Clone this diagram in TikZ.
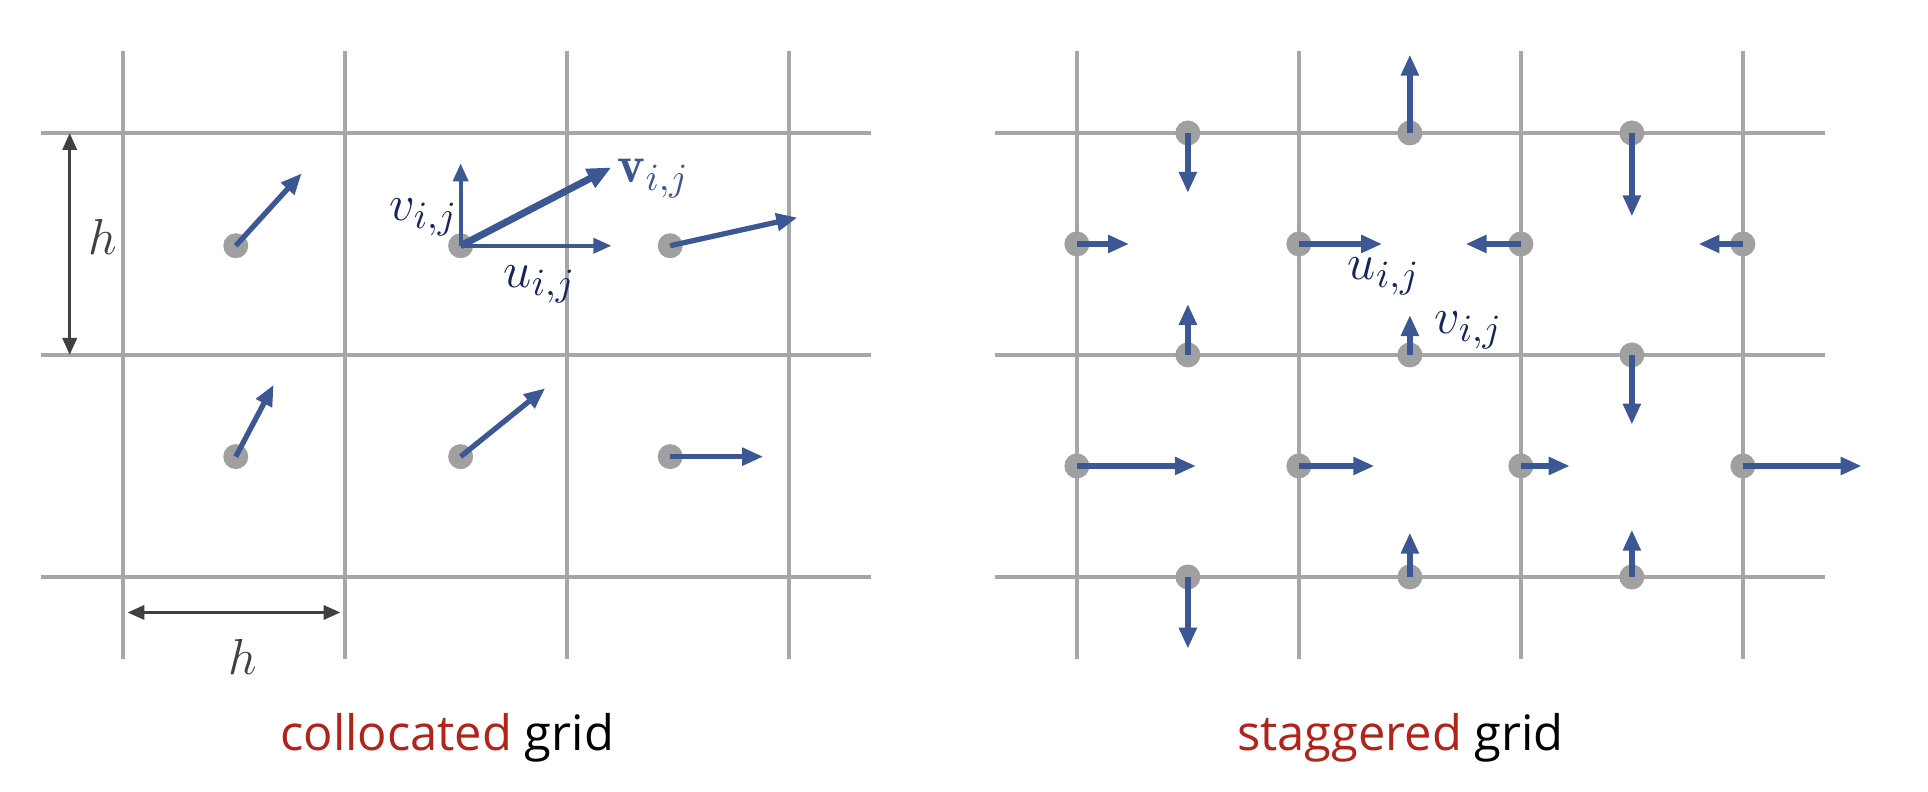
\documentclass[tikz,border=0pt]{standalone}
\usepackage{fontspec}
\setsansfont{Open Sans}
\usetikzlibrary{arrows.meta}
\definecolor{gridgray}{RGB}{166,166,166}
\definecolor{dotgray}{RGB}{160,160,160}
\definecolor{vecblue}{RGB}{59,87,148}
\definecolor{labnavy}{RGB}{22,36,92}
\definecolor{titlered}{RGB}{178,36,26}
\definecolor{dimgray}{RGB}{64,64,64}
\begin{document}
\begin{tikzpicture}[x=2.22cm, y=2.22cm, line join=round,
	gridline/.style={gridgray, line width=1.3pt},
	dot/.style={circle, fill=dotgray, inner sep=0pt, minimum size=0.25cm},
	vec/.style={vecblue, line width=1.5pt, -{Triangle[length=0.21cm, width=0.17cm]}},
	thinvec/.style={vecblue, line width=1.1pt, -{Triangle[length=0.18cm, width=0.15cm]}},
	boldvec/.style={vecblue, line width=2pt, -{Triangle[length=0.24cm, width=0.2cm]}},
	dim/.style={dimgray, line width=1pt, {Triangle[length=0.17cm, width=0.14cm]}-{Triangle[length=0.17cm, width=0.14cm]}},
	lab/.style={labnavy, font=\fontsize{15}{17}\selectfont},
	title/.style={anchor=base, font=\sffamily\fontsize{13.9}{16}\selectfont}]
	\useasboundingbox (-0.554,-0.968) rectangle (8.131,2.599);
	% collocated grid
	\foreach \i in {0,...,3} \draw[gridline] (\i,-0.37)--(\i,2.37);
	\foreach \j in {0,...,2} \draw[gridline] (-0.37,\j)--(3.37,\j);
	\node[dot] (p1) at (0.508,1.492) {};
	\node[dot] (p2) at (1.521,1.492) {};
	\node[dot] (p3) at (2.465,1.492) {};
	\node[dot] (p4) at (0.508,0.542) {};
	\node[dot] (p5) at (1.521,0.542) {};
	\node[dot] (p6) at (2.465,0.542) {};
	\draw[vec] (p1.center)--(0.805,1.818);
	\draw[thinvec] (p2.center)--(1.521,1.863);
	\draw[thinvec] (p2.center)--(2.20,1.492);
	\draw[boldvec] (p2.center)--(2.20,1.845);
	\draw[vec] (p3.center)--(3.038,1.619);
	\draw[vec] (p4.center)--(0.679,0.866);
	\draw[vec] (p5.center)--(1.902,0.850);
	\draw[vec] (p6.center)--(2.884,0.542);
	\node[lab] (vl) at (1.355,1.62) {$v_{i,j}$};
	\node[lab] (ul) at (1.877,1.317) {$u_{i,j}$};
	\node[lab, vecblue] (bvl) at (2.39,1.795) {$\mathbf{v}_{i,j}$};
	\draw[dim] (-0.24,1)--(-0.24,2);
	\draw[dim] (0.02,-0.16)--(0.98,-0.16);
	\node[lab, dimgray] (hv) at (-0.09,1.53) {$h$};
	\node[lab, dimgray] (hh) at (0.54,-0.36) {$h$};
	\node[title] (t1) at (1.46,-0.78) {\textcolor{titlered}{collocated} grid};
	% staggered grid
	\begin{scope}[shift={(4.297,0)}]
		\foreach \i in {0,...,3} \draw[gridline] (\i,-0.37)--(\i,2.37);
		\foreach \j in {0,...,2} \draw[gridline] (-0.37,\j)--(3.37,\j);
		\foreach \i in {0,...,3} {
			\node[dot] (ua\i) at (\i,1.5) {};
			\node[dot] (ub\i) at (\i,0.5) {};
		}
		\foreach \k in {0,1,2} \foreach \j in {0,1,2}
			\node[dot] (v\k\j) at (\k+0.5,\j) {};
		\foreach \k/\j/\d in {0/2/-0.27, 1/2/0.353, 2/2/-0.376, 0/1/0.23, 1/1/0.18, 2/1/-0.314, 0/0/-0.323, 1/0/0.20, 2/0/0.213}
			\draw[vec] (v\k\j.center)--++(0,\d);
		\foreach \i/\d in {0/0.235, 1/0.375, 2/-0.249, 3/-0.20}
			\draw[vec] (ua\i.center)--++(\d,0);
		\foreach \i/\d in {0/0.536, 1/0.34, 2/0.22, 3/0.535}
			\draw[vec] (ub\i.center)--++(\d,0);
		\node[lab] (us) at (1.383,1.355) {$u_{i,j}$};
		\node[lab] (vs) at (1.765,1.112) {$v_{i,j}$};
		\node[title] (t2) at (1.457,-0.78) {\textcolor{titlered}{staggered} grid};
	\end{scope}
\end{tikzpicture}
\end{document}
